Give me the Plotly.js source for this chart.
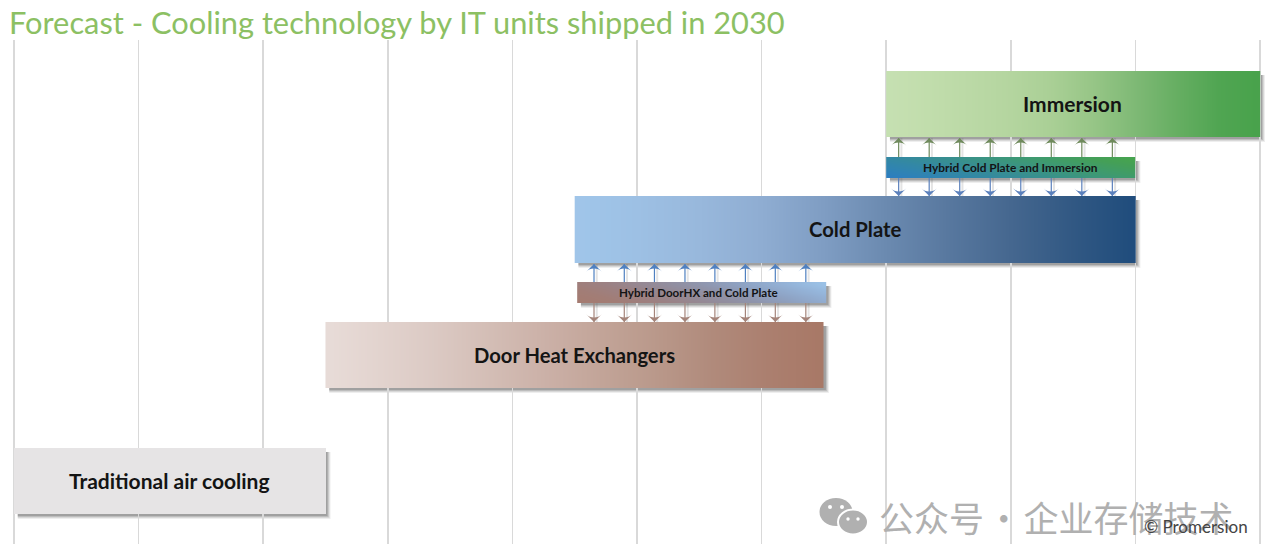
<!DOCTYPE html>
<html><head><meta charset="utf-8">
<script src="https://cdn.plot.ly/plotly-3.0.1.min.js"></script>
<style>html,body{margin:0;padding:0;background:#fff}#c{width:1280px;height:544px}</style></head>
<body><div id="c"></div>
<script>
// Bars: start / end on the horizontal scale, top / bottom on the vertical scale
const names   = ['Immersion','Hybrid Cold Plate and Immersion','Cold Plate','Hybrid DoorHX and Cold Plate','Door Heat Exchangers','Traditional air cooling'];
const starts  = [7.0, 7.0, 4.5, 4.52, 2.5, 0.0];
const ends    = [10.0, 9.0, 9.0, 6.52, 6.5, 2.5];
const tops    = [71, 157, 196, 282, 322, 448];
const bottoms = [137, 178, 263, 303, 388, 514];
const labelX  = [8.495, 8.0, 6.75, 5.49, 4.495, 1.245];
const labelSize = [21, 11.9, 20.3, 11.6, 20.2, 21];
const tilts   = [0, 0.3, 0, 0.22, 0, 0];
const gradients = [
 ['#c6e0b2','#c1ddac','#bbd9a6','#b4d59f','#a9cf95','#96c586','#7eb975','#66ae62','#50a552','#48a24b'],
 ['#2c7cc4','#2f83b4','#3388a4','#378e92','#3b9580','#3f9b6c','#449f58','#47a54c'],
 ['#a0c6ea','#9dc0e4','#98b8dc','#8fadd2','#7f9dc3','#6b8ab0','#58789f','#45678f','#315883','#1f4c7c'],
 ['#a57b70','#a27d76','#9c8183','#948a97','#8f94ab','#8ea3c4','#94b3d8','#9cc5ea'],
 ['#e8dcd8','#e2d3ce','#dbc9c3','#d3bdb5','#cbb0a7','#c2a498','#b9988a','#b08a7b','#ab7f6f','#a87866'],
 ['#e6e4e5','#e6e4e5']
];
// Arrows
const hybridCoolX = [7.10, 7.345, 7.59, 7.835, 8.08, 8.325, 8.57, 8.815];
const hybridDoorX = [4.655, 4.898, 5.14, 5.385, 5.625, 5.87, 6.11, 6.355];
const arrowGroups = [
 {x: hybridCoolX, from: 157, to: 138, color: '#6f8a5c', angle: 0},
 {x: hybridCoolX, from: 178, to: 196, color: '#5b80bc', angle: 180},
 {x: hybridDoorX, from: 282, to: 264, color: '#4f80c0', angle: 0},
 {x: hybridDoorX, from: 303, to: 322, color: '#a4847a', angle: 180}
];
const titleText = 'Forecast - Cooling technology by IT units shipped in 2030';
const watermarkText = '公众号\u200a·\u200a企业存储技术';
const creditText = '© Promersion';
const labelFont = 'Lato, "Open Sans", sans-serif';

const traces = [], shapes = [], annotations = [];

// gradient bars
names.forEach((name, k) => {
  const cols = 40, rows = 6;
  const a = starts[k], b = ends[k], t = tops[k], u = bottoms[k];
  const xe = [], ye = [], z = [];
  for (let i = 0; i <= cols; i++) xe.push(a + (b - a) * i / cols);
  for (let j = 0; j <= rows; j++) ye.push(t + (u - t) * j / rows);
  for (let j = 0; j < rows; j++) {
    const row = [];
    for (let i = 0; i < cols; i++) {
      const fx = (i + .5) / cols, fy = 1 - (j + .5) / rows;
      row.push(fx * (1 - tilts[k]) + fy * tilts[k]);
    }
    z.push(row);
  }
  const g = gradients[k];
  traces.push({type: 'heatmap', x: xe, y: ye, z: z, zmin: 0, zmax: 1, zsmooth: 'best',
    showscale: false, hoverinfo: 'skip',
    colorscale: g.map((c, i) => [i / (g.length - 1), c])});
  // soft shadow
  [[5, .10], [4, .14], [3, .20], [2, .28]].forEach(([o, op]) => {
    shapes.push({type: 'rect', layer: 'below', xref: 'x', yref: 'y',
      x0: a + 0.03, x1: b + o / 124.6, y0: t + 4, y1: u + o,
      fillcolor: '#555', opacity: op, line: {width: 0}});
  });
  annotations.push({x: labelX[k], y: (t + u) / 2 - 0.5, xref: 'x', yref: 'y', text: name, showarrow: false,
    font: {family: labelFont, size: labelSize[k], color: '#141414', weight: 700}});
});

// arrows
arrowGroups.forEach(gr => {
  const lx = [], ly = [], sx = [], sy = [];
  gr.x.forEach(v => {
    lx.push(v, v, null); ly.push(gr.from, gr.to, null);
    sx.push(v + 0.022, v + 0.022, null); sy.push(gr.from, gr.to, null);
  });
  traces.push({type: 'scatter', mode: 'lines', x: sx, y: sy, hoverinfo: 'skip', showlegend: false,
    line: {color: 'rgba(90,90,90,0.16)', width: 2}});
  traces.push({type: 'scatter', mode: 'lines', x: lx, y: ly, hoverinfo: 'skip', showlegend: false,
    line: {color: gr.color, width: 1.2}});
  traces.push({type: 'scatter', mode: 'markers', x: gr.x, y: gr.x.map(() => gr.to), hoverinfo: 'skip', showlegend: false,
    marker: {symbol: 'arrow-wide', angle: gr.angle, size: 11, color: gr.color, line: {width: 0}}});
});

// watermark logo
const wm = '#b0b0b0';
const px = p => p / 1280;
const ell = (cx, cy, rx, ry, fill, line) => shapes.push({type: 'circle', layer: 'above', xref: 'paper', yref: 'y',
  x0: px(cx - rx), x1: px(cx + rx), y0: cy - ry, y1: cy + ry, fillcolor: fill,
  line: line ? {color: line, width: 2} : {width: 0}});
ell(836, 512, 16.5, 14, wm);
ell(853, 522, 15, 12.5, wm, '#fff');
ell(830, 507, 2, 2, '#fff'); ell(842, 507, 2, 2, '#fff');
ell(848, 519, 1.7, 1.7, '#fff'); ell(858, 519, 1.7, 1.7, '#fff');

annotations.push({xref: 'paper', yref: 'y', x: px(877), y: 516, xanchor: 'left', text: watermarkText, showarrow: false,
  font: {family: '"Noto Sans CJK SC"', size: 35, color: wm}});
annotations.push({xref: 'paper', yref: 'y', x: px(1142), y: 526, xanchor: 'left', text: creditText, showarrow: false,
  font: {family: labelFont, size: 17, color: '#444'}});

Plotly.newPlot('c', traces, {
  width: 1280, height: 544,
  margin: {l: 0, r: 0, t: 40, b: 0, pad: 0},
  paper_bgcolor: '#fff', plot_bgcolor: '#fff',
  showlegend: false,
  title: {text: titleText, x: 9 / 1280, xref: 'paper', xanchor: 'left', y: 1 - 23 / 544, yref: 'container', yanchor: 'middle',
    font: {family: labelFont, size: 30.8, color: '#8cc063'}},
  xaxis: {range: [-14 / 124.6, 10 + 20 / 124.6], tick0: 0, dtick: 1, showgrid: true, gridcolor: '#d9d9d9', gridwidth: 1.5,
    zeroline: false, showticklabels: false, ticks: '', showline: false, fixedrange: true},
  yaxis: {range: [544, 40], showgrid: false, zeroline: false, showticklabels: false, ticks: '', showline: false, fixedrange: true},
  shapes, annotations
}, {displayModeBar: false, staticPlot: true});
</script></body></html>
